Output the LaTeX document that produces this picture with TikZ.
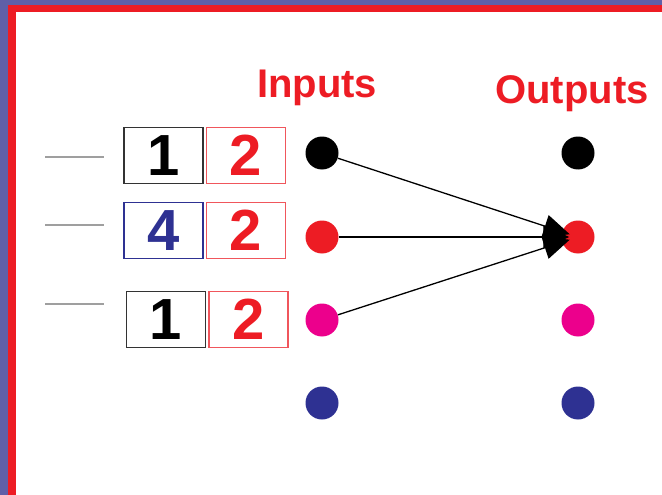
\documentclass[tikz,border=0pt]{standalone}
\usepackage{fontspec}
\setmainfont{Liberation Sans}
\usetikzlibrary{arrows.meta}
\definecolor{frameblue}{HTML}{5F5FA8}
\definecolor{framered}{HTML}{ED1C24}
\definecolor{dred}{HTML}{ED1C24}
\definecolor{boxred}{HTML}{F0565C}
\definecolor{dmag}{HTML}{EC008C}
\definecolor{dnavy}{HTML}{2E3192}
\tikzset{
  numbox/.style={draw, line width=1.1pt, minimum width=79pt, minimum height=56pt, inner sep=0pt,
     font=\fontsize{58}{60}\selectfont\bfseries},
  dot/.style={circle, minimum size=33pt, inner sep=0pt},
  arr/.style={-{Triangle[length=26pt,width=23pt]}, line width=1.3pt, shorten >=-8pt},
  guide/.style={draw=gray!75, line width=1.4pt},
  title/.style={text=dred, font=\fontsize{40}{48}\selectfont\bfseries, inner sep=0pt, anchor=base}
}
\begin{document}
\begin{tikzpicture}[x=1pt,y=-1pt]
\useasboundingbox (0,0) rectangle (662,495);
\fill[frameblue] (0,0) rectangle (662,495);
\fill[framered] (8,5) rectangle (662,495);
\fill[white] (16,12) rectangle (662,495);

\node[title] (tin) at (317,98) {Inputs};
\node[title] (tout) at (572,103) {Outputs};

\draw[guide] (45,157) -- (104,157);
\draw[guide] (45,225) -- (104,225);
\draw[guide] (45,304) -- (104,304);

\node[numbox, draw=black!80, text=black] (a1) at (163.5,155.5) {1};
\node[numbox, draw=boxred, text=dred] (b1) at (246,155.5) {2};
\node[numbox, draw=dnavy, text=dnavy] (a2) at (163.5,230.5) {4};
\node[numbox, draw=boxred, text=dred] (b2) at (246,230.5) {2};
\node[numbox, draw=black!80, text=black] (a3) at (166,319.5) {1};
\node[numbox, draw=boxred, text=dred] (b3) at (248.5,319.5) {2};

\node[dot, fill=black] (i1) at (322,153) {};
\node[dot, fill=dred] (i2) at (322,237) {};
\node[dot, fill=dmag] (i3) at (322,320) {};
\node[dot, fill=dnavy] (i4) at (322,403) {};
\node[dot, fill=black] (o1) at (578,153) {};
\node[dot, fill=dred] (o2) at (578,237) {};
\node[dot, fill=dmag] (o3) at (578,320) {};
\node[dot, fill=dnavy] (o4) at (578,403) {};

\draw[arr] (i1) -- (o2);
\draw[arr] (i2) -- (o2);
\draw[arr] (i3) -- (o2);
\end{tikzpicture}
\end{document}
